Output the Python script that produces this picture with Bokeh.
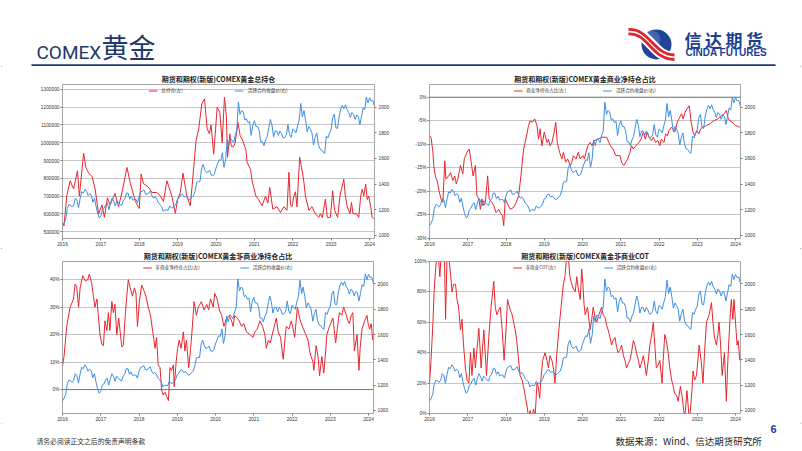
from bokeh.plotting import figure
from bokeh.layouts import column, row
from bokeh.models import Range1d, LinearAxis, FixedTicker, Legend, LegendItem, Span
from bokeh.core.properties import value
from bokeh.embed import file_html
from bokeh.resources import INLINE

# ---------------- data ----------------
years = [2016, 2017, 2018, 2019, 2020, 2021, 2022, 2023, 2024]
year_labels = ["2016", "2017", "2018", "2019", "2020", "2021", "2022", "2023", "2024"]
x_start, x_end = 2016.0, 2024.13

price_label = "活跃合约收盘价(右)"
price_ticks = [1000, 1200, 1400, 1600, 1800, 2000]
price_labels = ["1000", "1200", "1400", "1600", "1800", "2000"]
price_range = (975, 2178)

# COMEX gold active contract close, two readings per month (1st, 15th)
gold_2016 = [1075, 1095, 1125, 1210, 1240, 1235, 1222, 1238, 1290, 1275, 1215, 1285,
             1340, 1330, 1360, 1345, 1310, 1325, 1315, 1258, 1290, 1225, 1172, 1135]
gold_2017 = [1150, 1200, 1210, 1240, 1255, 1200, 1250, 1290, 1268, 1230, 1270, 1258,
             1242, 1232, 1270, 1285, 1330, 1330, 1285, 1305, 1275, 1280, 1280, 1255]
gold_2018 = [1310, 1340, 1345, 1355, 1320, 1322, 1330, 1345, 1308, 1290, 1300, 1282,
             1252, 1240, 1225, 1185, 1200, 1198, 1195, 1230, 1215, 1215, 1225, 1245]
gold_2019 = [1285, 1292, 1320, 1320, 1300, 1305, 1295, 1278, 1285, 1300, 1310, 1350,
             1415, 1418, 1420, 1525, 1555, 1510, 1490, 1495, 1510, 1470, 1465, 1480]
gold_2020 = [1525, 1560, 1590, 1585, 1645, 1530, 1590, 1745, 1700, 1755, 1745, 1725,
             1780, 1815, 2040, 1945, 1975, 1965, 1900, 1910, 1880, 1890, 1780, 1860]
gold_2021 = [1895, 1850, 1850, 1820, 1730, 1730, 1700, 1745, 1770, 1840, 1905, 1860,
             1770, 1815, 1815, 1780, 1815, 1795, 1760, 1765, 1785, 1865, 1785, 1765]
gold_2022 = [1830, 1820, 1800, 1855, 1900, 2030, 1925, 1975, 1900, 1810, 1850, 1830,
             1800, 1705, 1765, 1800, 1710, 1675, 1670, 1650, 1640, 1775, 1760, 1800]
gold_2023 = [1825, 1920, 1945, 1840, 1835, 1930, 1985, 2015, 1990, 2020, 1980, 1960,
             1920, 1960, 1945, 1905, 1940, 1930, 1865, 1930, 1995, 1980, 2080, 2035]
gold_2024 = [2075, 2050, 2055, 2010]
gold_values = gold_2016 + gold_2017 + gold_2018 + gold_2019 + gold_2020 + gold_2021 + gold_2022 + gold_2023 + gold_2024
gold_t = [2016 + i / 24 for i in range(len(gold_values))]

# Chart 1: total open interest (thousand contracts), (year, value)
oi_title = "期货和期权(新版)COMEX黄金总持仓"
oi_label = "总持仓(左)"
oi_pairs_k = [
    (2016.00, 551), (2016.04, 532), (2016.11, 701), (2016.20, 786), (2016.29, 740), (2016.39, 842),
    (2016.44, 700), (2016.55, 942), (2016.61, 860), (2016.68, 830), (2016.77, 810), (2016.85, 740),
    (2016.94, 600), (2017.03, 650), (2017.09, 580), (2017.17, 690), (2017.24, 650), (2017.37, 715),
    (2017.46, 640), (2017.55, 720), (2017.68, 861), (2017.77, 770), (2017.90, 670), (2018.00, 630),
    (2018.05, 824), (2018.11, 770), (2018.24, 750), (2018.33, 720), (2018.46, 720), (2018.55, 700),
    (2018.63, 670), (2018.72, 786), (2018.85, 700), (2018.94, 602), (2019.00, 680), (2019.07, 720),
    (2019.14, 829), (2019.24, 700), (2019.33, 645), (2019.37, 740), (2019.48, 1012), (2019.55, 1080),
    (2019.63, 1219), (2019.70, 1247), (2019.77, 1078), (2019.83, 1050), (2019.87, 1100), (2019.94, 936),
    (2019.98, 1050), (2020.03, 1200), (2020.10, 1170), (2020.16, 1000), (2020.22, 1256), (2020.27, 1150),
    (2020.30, 918), (2020.36, 1050), (2020.40, 980), (2020.46, 980), (2020.50, 1000), (2020.57, 1115),
    (2020.63, 1040), (2020.68, 1021), (2020.78, 960), (2020.81, 890), (2020.90, 850), (2020.94, 786),
    (2021.04, 700), (2021.11, 680), (2021.20, 645), (2021.29, 700), (2021.35, 660), (2021.40, 748),
    (2021.48, 626), (2021.59, 640), (2021.68, 607), (2021.77, 640), (2021.85, 620), (2021.90, 833),
    (2021.94, 650), (2021.98, 640), (2022.03, 700), (2022.07, 724), (2022.11, 640), (2022.18, 918),
    (2022.23, 860), (2022.29, 780), (2022.33, 700), (2022.42, 620), (2022.50, 640), (2022.59, 600),
    (2022.68, 580), (2022.72, 600), (2022.77, 579), (2022.85, 683), (2022.90, 580), (2022.98, 580),
    (2023.04, 730), (2023.09, 620), (2023.17, 580), (2023.23, 700), (2023.27, 740), (2023.33, 795),
    (2023.37, 700), (2023.42, 640), (2023.49, 600), (2023.53, 664), (2023.57, 600), (2023.66, 600),
    (2023.72, 580), (2023.77, 700), (2023.81, 739), (2023.85, 700), (2023.90, 767), (2023.94, 680),
    (2023.98, 700), (2024.03, 640), (2024.07, 580), (2024.11, 570)]
oi_ticks = [500000, 600000, 700000, 800000, 900000, 1000000, 1100000, 1200000, 1300000]
oi_tick_labels = ["500000", "600000", "700000", "800000", "900000", "1000000", "1100000", "1200000", "1300000"]
oi_range = (461000, 1328000)

# Chart 2: commercial net position share (%)
cm_title = "期货和期权(新版)COMEX黄金商业净持仓占比"
cm_label = "商业净持仓占比(左)"
cm_pairs = [
    (2016.00, -8.2), (2016.04, -8.5), (2016.09, -11.7), (2016.11, -14.5), (2016.16, -17.0), (2016.20, -17.7),
    (2016.24, -19.5), (2016.30, -21.6), (2016.35, -22.3), (2016.40, -13.5), (2016.43, -17.4), (2016.50, -16.7),
    (2016.55, -16.0), (2016.61, -17.7), (2016.66, -16.7), (2016.70, -18.4), (2016.74, -17.4), (2016.81, -14.5),
    (2016.87, -16.3), (2016.91, -13.1), (2016.98, -11.7), (2017.04, -11.0), (2017.09, -13.8), (2017.14, -16.7),
    (2017.20, -14.5), (2017.24, -20.9), (2017.29, -21.6), (2017.33, -23.8), (2017.37, -21.6), (2017.42, -23.0),
    (2017.46, -22.3), (2017.52, -16.7), (2017.56, -21.6), (2017.63, -22.3), (2017.68, -23.0), (2017.74, -24.5),
    (2017.81, -23.8), (2017.85, -24.5), (2017.91, -25.2), (2017.94, -27.3), (2017.98, -21.6), (2018.02, -22.3),
    (2018.11, -23.8), (2018.20, -23.4), (2018.27, -22.3), (2018.33, -20.9), (2018.39, -16.7), (2018.46, -11.0),
    (2018.52, -8.9), (2018.59, -6.0), (2018.63, -5.0), (2018.69, -5.3), (2018.75, -4.6), (2018.81, -6.0),
    (2018.85, -8.9), (2018.89, -6.7), (2018.94, -10.3), (2019.00, -7.4), (2019.07, -9.6), (2019.11, -8.9),
    (2019.15, -10.3), (2019.20, -9.6), (2019.26, -7.4), (2019.30, -5.3), (2019.34, -9.6), (2019.40, -11.7),
    (2019.46, -13.1), (2019.50, -11.7), (2019.56, -13.8), (2019.61, -13.1), (2019.68, -14.5), (2019.72, -13.8),
    (2019.76, -12.4), (2019.83, -13.1), (2019.89, -11.7), (2019.94, -13.1), (2020.01, -12.4), (2020.05, -13.1),
    (2020.09, -11.7), (2020.14, -10.3), (2020.20, -9.6), (2020.25, -10.3), (2020.30, -9.2), (2020.41, -8.9),
    (2020.50, -8.5), (2020.63, -8.5), (2020.69, -9.6), (2020.73, -10.3), (2020.80, -11.0), (2020.87, -12.4),
    (2020.98, -12.4), (2021.02, -13.8), (2021.08, -14.5), (2021.13, -13.8), (2021.18, -13.1), (2021.24, -11.7),
    (2021.28, -10.3), (2021.33, -11.0), (2021.39, -10.3), (2021.48, -9.6), (2021.53, -8.9), (2021.59, -7.4),
    (2021.64, -8.9), (2021.69, -7.4), (2021.74, -8.5), (2021.80, -9.2), (2021.85, -8.5), (2021.91, -9.6),
    (2021.97, -9.2), (2022.02, -10.3), (2022.06, -8.9), (2022.13, -9.6), (2022.17, -7.8), (2022.22, -8.2),
    (2022.26, -7.1), (2022.32, -6.4), (2022.37, -6.7), (2022.41, -7.4), (2022.48, -5.3), (2022.52, -4.6),
    (2022.59, -3.5), (2022.63, -4.6), (2022.68, -3.2), (2022.73, -2.5), (2022.79, -1.8), (2022.84, -5.3),
    (2022.89, -7.4), (2022.93, -8.2), (2022.99, -7.1), (2023.04, -7.8), (2023.09, -6.7), (2023.13, -6.4),
    (2023.24, -6.0), (2023.32, -5.7), (2023.43, -5.0), (2023.54, -4.6), (2023.63, -3.9), (2023.71, -3.5),
    (2023.76, -2.8), (2023.80, -4.3), (2023.85, -5.0), (2023.91, -5.3), (2024.00, -6.0), (2024.11, -6.4)]
cm_ticks = [-30, -25, -20, -15, -10, -5, 0]
cm_tick_labels = ["-30%", "-25%", "-20%", "-15%", "-10%", "-5%", "0%"]
cm_range = (-30, 2.7)

# Chart 3: non-commercial net position share (%)
nc_title = "期货和期权(新版)COMEX黄金非商业净持仓占比"
nc_label = "非商业净持仓占比(左)"
nc_pairs = [
    (2016.00, 8.6), (2016.04, 12), (2016.11, 23), (2016.20, 30), (2016.29, 33), (2016.33, 38.4),
    (2016.37, 37.5), (2016.42, 30), (2016.46, 37), (2016.53, 41.4), (2016.60, 39.5), (2016.66, 40),
    (2016.70, 42), (2016.76, 39), (2016.81, 33.7), (2016.85, 30), (2016.90, 33), (2016.93, 28),
    (2016.98, 20), (2017.03, 16.4), (2017.07, 16), (2017.11, 25), (2017.16, 21.5), (2017.20, 28),
    (2017.24, 21.5), (2017.29, 32), (2017.33, 28), (2017.37, 31), (2017.42, 20), (2017.47, 26),
    (2017.50, 22), (2017.55, 15.5), (2017.59, 16), (2017.64, 27), (2017.68, 34), (2017.72, 40),
    (2017.77, 37), (2017.83, 34), (2017.88, 37), (2017.92, 35), (2017.96, 23), (2018.01, 32),
    (2018.07, 38), (2018.13, 36), (2018.18, 34), (2018.24, 30), (2018.30, 27), (2018.37, 20),
    (2018.42, 15), (2018.46, 19), (2018.50, 9), (2018.55, 8), (2018.59, 0), (2018.63, -2),
    (2018.68, -1), (2018.72, -2.5), (2018.77, -4), (2018.81, 8), (2018.85, 7), (2018.90, 9),
    (2018.92, 1), (2018.97, 10), (2019.01, 15), (2019.05, 18), (2019.10, 15), (2019.16, 21),
    (2019.20, 14), (2019.24, 18), (2019.30, 8), (2019.35, 15), (2019.39, 22), (2019.44, 32),
    (2019.50, 27), (2019.55, 30), (2019.63, 32), (2019.70, 29), (2019.77, 31), (2019.82, 29),
    (2019.87, 33), (2019.94, 30), (2019.98, 35), (2020.04, 33), (2020.10, 29), (2020.16, 27),
    (2020.22, 23), (2020.29, 26), (2020.36, 27), (2020.42, 25), (2020.46, 23), (2020.50, 27),
    (2020.57, 26), (2020.62, 25), (2020.68, 23), (2020.74, 24), (2020.81, 21), (2020.90, 20),
    (2020.98, 19), (2021.03, 21), (2021.09, 22), (2021.16, 25), (2021.23, 23), (2021.29, 20),
    (2021.33, 15), (2021.38, 18), (2021.43, 17), (2021.50, 21), (2021.59, 26), (2021.64, 21),
    (2021.70, 19), (2021.77, 11), (2021.82, 19), (2021.85, 23), (2021.92, 22), (2021.98, 25),
    (2022.03, 22), (2022.07, 19), (2022.14, 30), (2022.20, 26), (2022.24, 24), (2022.30, 22),
    (2022.36, 20), (2022.42, 18), (2022.46, 14), (2022.50, 12), (2022.55, 10), (2022.57, 7),
    (2022.63, 16), (2022.68, 12), (2022.72, 5), (2022.78, 12), (2022.83, 6), (2022.88, 14),
    (2022.91, 20), (2022.98, 23), (2023.07, 26), (2023.14, 17), (2023.20, 24), (2023.24, 28),
    (2023.30, 27), (2023.35, 30), (2023.42, 27), (2023.46, 25), (2023.50, 24), (2023.55, 27),
    (2023.59, 28), (2023.63, 14), (2023.70, 20), (2023.75, 7), (2023.78, 15), (2023.83, 22),
    (2023.90, 25), (2023.96, 27), (2023.99, 24), (2024.03, 22), (2024.07, 24), (2024.11, 18)]
nc_ticks = [0, 10, 20, 30, 40]
nc_tick_labels = ["0%", "10%", "20%", "30%", "40%"]
nc_range = (-8.7, 46.6)

# Chart 4: non-commercial COT index (%)
cot_title = "期货和期权(新版)COMEX黄金非商业COT"
cot_label = "非商业COT(左)"
cot_pairs = [
    (2016.00, 20), (2016.04, 35), (2016.09, 60), (2016.12, 80), (2016.16, 95), (2016.20, 106),
    (2016.23, 104), (2016.27, 90), (2016.31, 106), (2016.36, 108), (2016.39, 105), (2016.42, 62),
    (2016.46, 106), (2016.50, 104), (2016.55, 92), (2016.59, 80), (2016.63, 85), (2016.68, 85),
    (2016.72, 75), (2016.76, 70), (2016.81, 55), (2016.85, 62), (2016.89, 45), (2016.94, 30),
    (2016.98, 22), (2017.03, 20), (2017.07, 40), (2017.11, 25), (2017.16, 43), (2017.20, 30),
    (2017.24, 42), (2017.29, 56), (2017.35, 30), (2017.42, 55), (2017.49, 25), (2017.55, 50),
    (2017.61, 70), (2017.68, 87), (2017.72, 70), (2017.76, 65), (2017.81, 68), (2017.85, 70),
    (2017.90, 55), (2017.95, 35), (2018.00, 55), (2018.04, 75), (2018.11, 68), (2018.15, 66),
    (2018.20, 60), (2018.24, 55), (2018.28, 48), (2018.33, 35), (2018.37, 25), (2018.42, 22),
    (2018.48, 15), (2018.51, 10), (2018.55, 5), (2018.59, -3), (2018.63, 2), (2018.68, -4),
    (2018.72, 3), (2018.76, -3), (2018.81, 20), (2018.84, 18), (2018.88, 10), (2018.91, 22),
    (2018.96, 35), (2019.02, 40), (2019.07, 35), (2019.11, 30), (2019.15, 38), (2019.20, 35),
    (2019.24, 30), (2019.28, 20), (2019.33, 40), (2019.40, 60), (2019.46, 75), (2019.50, 85),
    (2019.54, 90), (2019.59, 105), (2019.63, 103), (2019.67, 90), (2019.72, 85), (2019.76, 82),
    (2019.81, 80), (2019.85, 90), (2019.89, 82), (2019.94, 75), (2019.98, 95), (2020.01, 85),
    (2020.04, 72), (2020.07, 65), (2020.13, 70), (2020.20, 55), (2020.24, 62), (2020.28, 70),
    (2020.33, 63), (2020.37, 60), (2020.43, 65), (2020.50, 70), (2020.54, 65), (2020.59, 63),
    (2020.63, 58), (2020.67, 55), (2020.72, 50), (2020.76, 45), (2020.80, 48), (2020.85, 50),
    (2020.89, 44), (2020.93, 40), (2020.98, 42), (2021.02, 45), (2021.07, 38), (2021.11, 35),
    (2021.15, 30), (2021.20, 33), (2021.24, 35), (2021.28, 40), (2021.33, 48), (2021.37, 45),
    (2021.41, 40), (2021.46, 35), (2021.50, 30), (2021.54, 33), (2021.59, 38), (2021.63, 32),
    (2021.67, 25), (2021.72, 35), (2021.76, 45), (2021.81, 52), (2021.85, 60), (2021.89, 45),
    (2021.93, 30), (2021.98, 32), (2022.02, 35), (2022.08, 20), (2022.11, 35), (2022.15, 52),
    (2022.19, 48), (2022.24, 40), (2022.28, 30), (2022.33, 22), (2022.37, 18), (2022.41, 13),
    (2022.46, 12), (2022.50, 8), (2022.56, 18), (2022.61, 10), (2022.67, -3), (2022.69, 2),
    (2022.73, 15), (2022.79, -4), (2022.82, 2), (2022.86, 15), (2022.89, 28), (2022.93, 22),
    (2022.98, 25), (2023.05, 45), (2023.10, 35), (2023.15, 20), (2023.19, 40), (2023.24, 60),
    (2023.31, 65), (2023.37, 73), (2023.41, 60), (2023.45, 50), (2023.50, 45), (2023.54, 52),
    (2023.57, 60), (2023.61, 45), (2023.65, 25), (2023.69, 35), (2023.71, 40), (2023.76, 8),
    (2023.80, 35), (2023.85, 60), (2023.89, 75), (2023.93, 62), (2023.96, 75), (2024.00, 60),
    (2024.04, 45), (2024.07, 48), (2024.11, 35)]
cot_ticks = [0, 20, 40, 60, 80, 100]
cot_tick_labels = ["0%", "20%", "40%", "60%", "80%", "100%"]
cot_range = (0, 100)

# ---------------- styles ----------------
RED = "#E8262E"
BLUE = "#3D8EE3"
NAVY = "#1F3A68"
CJK = "Noto Sans CJK SC"
TICK_FONT = "Liberation Sans"


def style_axis(ax):
    ax.axis_line_color = None
    ax.major_tick_line_color = "#777777"
    ax.major_tick_out = 2
    ax.major_tick_in = 0
    ax.minor_tick_line_color = None
    ax.major_label_text_font = TICK_FONT
    ax.major_label_text_font_size = "4.8px"
    ax.major_label_text_color = "#333333"
    ax.major_label_standoff = 1


def make_chart(title, pairs, label, yrange, lticks, llabels, w, h, borders, spacing, zero_line):
    t = [a for a, b in pairs]
    v = [b for a, b in pairs]
    p = figure(width=w, height=h, output_backend="svg", toolbar_location=None,
               x_range=Range1d(x_start, x_end), y_range=Range1d(*yrange),
               min_border_left=borders[0], min_border_right=borders[1],
               min_border_top=borders[2], min_border_bottom=borders[3])
    p.background_fill_color = "white"
    p.border_fill_color = "white"
    p.outline_line_color = "#A6A6A6"
    p.outline_line_width = 1
    p.title.text = title
    p.title.align = "center"
    p.title.text_font = CJK
    p.title.text_font_size = "7px"
    p.title.text_font_style = "bold"
    p.title.text_color = "#222222"
    p.title.standoff = 1
    p.title.offset = 0
    p.extra_y_ranges = {"price": Range1d(*price_range)}

    p.xgrid.visible = False
    p.ygrid.grid_line_color = "#C6C6C6"
    p.ygrid.grid_line_width = 1
    if zero_line:
        p.add_layout(Span(location=0, dimension="width", line_color="#7A7A7A", line_width=1, level="underlay"))

    r_red = p.line(t, v, line_color=RED, line_width=1)
    r_blue = p.line(gold_t, gold_values, line_color=BLUE, line_width=1, y_range_name="price")

    p.xaxis.ticker = FixedTicker(ticks=years)
    p.xaxis.major_label_overrides = dict(zip(years, year_labels))
    p.yaxis.ticker = FixedTicker(ticks=lticks)
    p.yaxis.major_label_overrides = dict(zip(lticks, llabels))
    right = LinearAxis(y_range_name="price", ticker=FixedTicker(ticks=price_ticks),
                       major_label_overrides=dict(zip(price_ticks, price_labels)))
    p.add_layout(right, "right")
    for ax in p.xaxis + p.yaxis:
        style_axis(ax)
    style_axis(right)
    right.major_label_standoff = 2

    legend = Legend(items=[LegendItem(label=label, renderers=[r_red]),
                           LegendItem(label=price_label, renderers=[r_blue])],
                    orientation="horizontal", location="top_center", spacing=spacing,
                    label_text_font=CJK, label_text_font_size="4.6px", label_text_color="#333333",
                    glyph_width=9, glyph_height=5, label_height=5, label_standoff=4,
                    padding=1, margin=3, border_line_color=None, background_fill_alpha=0)
    p.add_layout(legend)
    return p


c1 = make_chart(oi_title, [(a, b * 1000) for a, b in oi_pairs_k], oi_label, oi_range, oi_ticks, oi_tick_labels,
                398, 182, (62, 24, 18, 10), 52, False)
c2 = make_chart(cm_title, cm_pairs, cm_label, cm_range, cm_ticks, cm_tick_labels,
                404, 182, (31, 62, 18, 10), 37, True)
c3 = make_chart(nc_title, nc_pairs, nc_label, nc_range, nc_ticks, nc_tick_labels,
                398, 175, (62, 25, 13, 8), 40, True)
c4 = make_chart(cot_title, cot_pairs, cot_label, cot_range, cot_ticks, cot_tick_labels,
                404, 175, (31, 62, 13, 8), 48, False)

# ---------------- header ----------------
hdr = figure(width=802, height=66, output_backend="svg", toolbar_location=None,
             x_range=Range1d(0, 802), y_range=Range1d(66, 0),
             x_axis_type=None, y_axis_type=None, min_border=0)
hdr.outline_line_color = None
hdr.grid.visible = False
hdr.text(x=[36], y=[52.3], text=["COMEX"], text_font=value("Roboto"),
         text_font_size="19px", text_color=NAVY, text_baseline="alphabetic", text_align="left")
hdr.text(x=[101], y=[45.5], text=["黄金"], text_font=value(CJK),
         text_font_size="27px", text_color=NAVY, text_baseline="middle", text_align="left")
hdr.segment(x0=[31], y0=[65], x1=[775], y1=[65], line_color="#1F3864", line_width=2.5)

# logo
hdr.circle(x=[656], y=[44], radius=15, fill_color="#22439A", line_color=None)
hdr.circle(x=[651], y=[39], radius=9, fill_color="#5E80C8", line_color=None, fill_alpha=0.55)
hdr.bezier(x0=[628], y0=[31], x1=[674], y1=[57], cx0=[649], cy0=[30], cx1=[652], cy1=[57],
           line_color="white", line_width=11)
hdr.bezier(x0=[628], y0=[29], x1=[674], y1=[54.5], cx0=[649], cy0=[28], cx1=[653], cy1=[54.5],
           line_color="#E0242C", line_width=2.8)
hdr.bezier(x0=[628], y0=[33.5], x1=[674], y1=[59], cx0=[648], cy0=[32.5], cx1=[651], cy1=[59],
           line_color="#E0242C", line_width=2.8)
logo_chars = ["信", "达", "期", "货"]
hdr.text(x=[684, 704.5, 725, 745.5], y=[38.8] * 4, text=logo_chars, text_font=value(CJK), text_font_style="bold",
         text_font_size="17px", text_color="#1C3F94", text_baseline="middle", text_align="left")
hdr.text(x=[685], y=[51.5], text=["CINDA FUTURES"], text_font=value("Liberation Sans"), text_font_style="bold",
         text_font_size="10px", text_color="#1C3F94", text_baseline="middle", text_align="left")

# ---------------- footer ----------------
ftr = figure(width=802, height=28, output_backend="svg", toolbar_location=None,
             x_range=Range1d(0, 802), y_range=Range1d(28, 0),
             x_axis_type=None, y_axis_type=None, min_border=0)
ftr.outline_line_color = None
ftr.grid.visible = False
ftr.text(x=[36], y=[17], text=["请务必阅读正文之后的免责声明条款"], text_font=value(CJK),
         text_font_size="6.8px", text_color="#333333", text_baseline="middle", text_align="left")
ftr.text(x=[615], y=[17], text=["数据来源：Wind、信达期货研究所"], text_font=value(CJK),
         text_font_size="9.5px", text_color="#222222", text_baseline="middle", text_align="left")
ftr.text(x=[770], y=[5.5], text=["6"], text_font=value("Liberation Sans"), text_font_style="bold",
         text_font_size="11px", text_color="#1F3D99", text_baseline="middle", text_align="left")

layout = column(hdr, row(c1, c2), row(c3, c4), ftr)
layout.styles = {"outline": "1.5px solid #8C8C8C", "outline-offset": "-2px"}
open("out.html", "w").write(file_html(layout, INLINE))
